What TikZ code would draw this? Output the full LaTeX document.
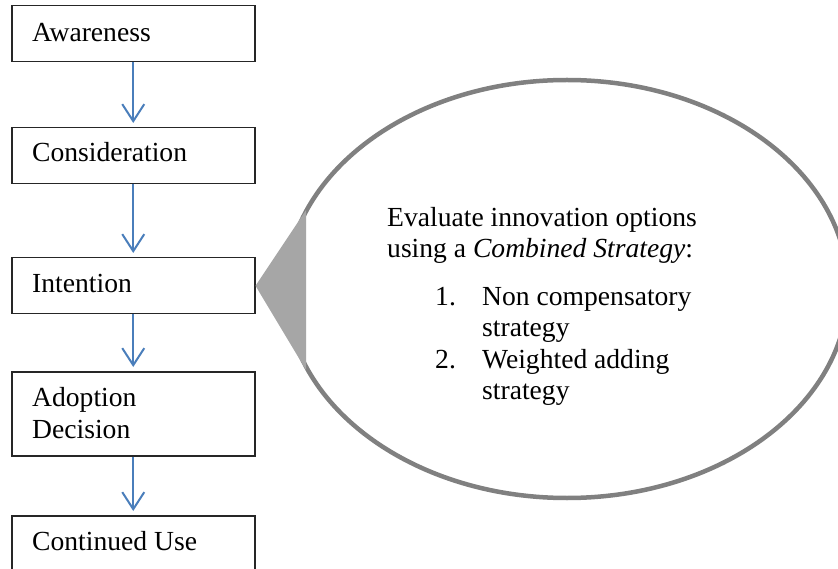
\documentclass[tikz,border=0pt]{standalone}
\usepackage{fontspec}
\setmainfont{Liberation Serif}
\usetikzlibrary{arrows.meta,shapes.geometric}
\definecolor{arrowblue}{HTML}{4A7EBB}
\definecolor{ovalgray}{HTML}{808080}
\definecolor{pointgray}{HTML}{A6A6A6}
\begin{document}
\begin{tikzpicture}[x=1pt,y=-1pt,
  stagebox/.style={draw=black!85, line width=1.5pt, minimum width=243pt, minimum height=56pt, inner sep=0pt, anchor=north west},
  txt/.style={anchor=base west, inner sep=0pt, font=\fontsize{27.6}{31}\selectfont},
  flow/.style={draw=arrowblue, line width=2pt, -{Straight Barb[length=17pt,width=22pt]}, shorten >=4pt}]
\useasboundingbox (0,0) rectangle (838,569);
\clip (0,0) rectangle (838,569);
% stage boxes
\node[stagebox] (aw) at (11,5) {};
\node[stagebox] (co) at (11,127) {};
\node[stagebox] (in) at (11,257) {};
\node[stagebox, minimum height=84pt] (ad) at (11,371) {};
\node[stagebox, minimum height=70pt] (cu) at (11,515) {};
% stage labels
\node[txt] (awt) at (32,42) {Awareness};
\node[txt] (cot) at (32,162) {Consideration};
\node[txt] (int) at (32,293) {Intention};
\node[txt] (adt1) at (32,406) {Adoption};
\node[txt] (adt2) at (32,438) {Decision};
\node[txt] (cut) at (32,550) {Continued Use};
% arrows
\draw[flow] (aw.south) -- (co.north);
\draw[flow] (co.south) -- (in.north);
\draw[flow] (in.south) -- (ad.north);
\draw[flow] (ad.south) -- (cu.north);
% callout
\node[ellipse, draw=ovalgray, fill=white, line width=4.5pt, minimum width=562pt, minimum height=418pt, inner sep=0pt] (ov) at (567,289) {};
\coordinate (pt) at (306,210);
\coordinate (pb) at (306,370);
\fill[pointgray] (in.east) -- (pt) -- (pb) -- cycle;
% callout text
\node[txt] (e1) at (387,227) {Evaluate innovation options};
\node[txt] (e2) at (387,258) {using a \textit{Combined Strategy}:};
\node[txt] (n1) at (435,306) {1.};
\node[txt] (i1a) at (482,306) {Non compensatory};
\node[txt] (i1b) at (482,337) {strategy};
\node[txt] (n2) at (435,368) {2.};
\node[txt] (i2a) at (482,368) {Weighted adding};
\node[txt] (i2b) at (482,399) {strategy};
\end{tikzpicture}
\end{document}
